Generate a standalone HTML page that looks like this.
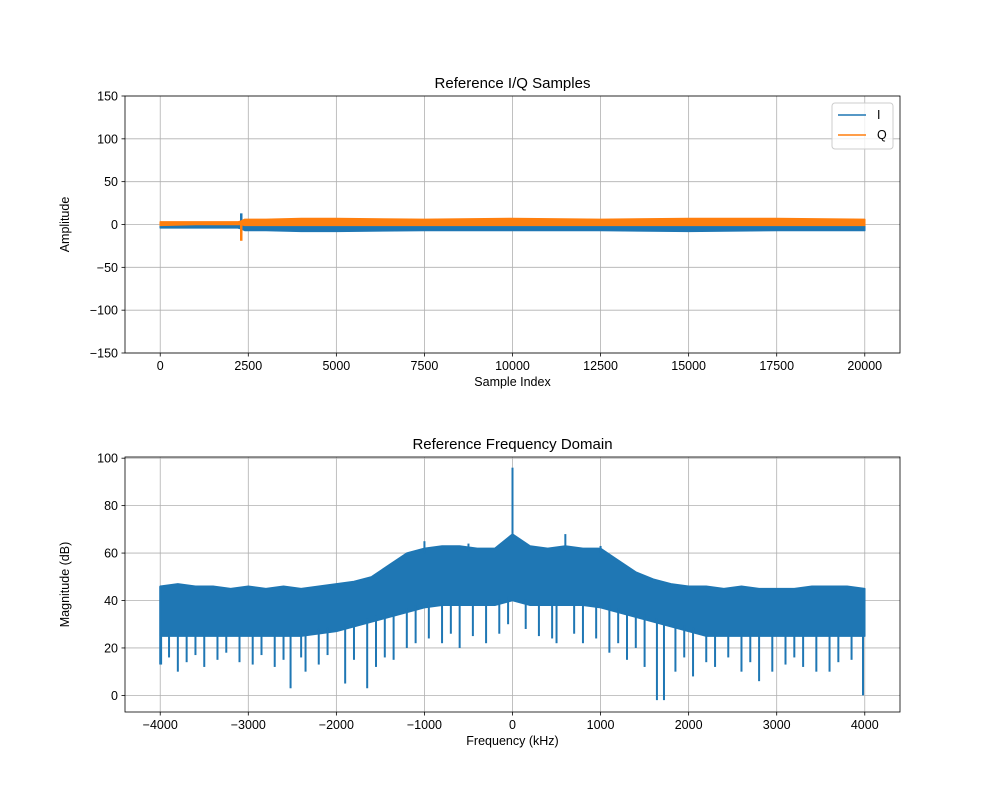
<!DOCTYPE html>
<html><head><meta charset="utf-8"><style>
body{margin:0;background:#fff;}
svg{display:block;font-family:"Liberation Sans","DejaVu Sans",sans-serif;}
</style></head><body>
<svg id="fig" width="1000" height="800" viewBox="0 0 1000 800"></svg>
<script>
// ---- Top chart data (I/Q envelopes) ----
const sampleIdx = [0, 1000, 2200, 2300, 2400, 3000, 4000, 5000, 7500, 10000, 12500, 15000, 17500, 20000];
const iHigh = [-1, -1, -1, -1, -1, -1, -1, -1, -1, -1, -1, -1, -1, -1];
const iLow  = [-4, -4, -4, -5, -7, -7, -8, -8, -7, -7, -7, -8, -7, -7];
const qHigh = [3, 3, 3, 4, 6, 6, 7, 7, 6, 7, 6, 7, 7, 6];
const qLow  = [-1, 0, 0, 0, -1, -1, -1, -1, -1, -1, -1, -1, -1, -1];
const iqSpikeIdx = [2300];
const iSpikeHigh = [13];
const qSpikeLow = [-19];
const topXTicks = [0, 2500, 5000, 7500, 10000, 12500, 15000, 17500, 20000];
const topYTicks = [-150, -100, -50, 0, 50, 100, 150];
// ---- Bottom chart data (spectrum envelope, kHz / dB) ----
const freqs = [-4000,-3800,-3600,-3400,-3200,-3000,-2800,-2600,-2400,-2200,-2000,-1800,-1600,-1400,-1200,-1000,-800,-600,-400,-200,0,200,400,600,800,1000,1200,1400,1600,1800,2000,2200,2400,2600,2800,3000,3200,3400,3600,3800,4000];
const magHigh = [46,47,46,46,45,46,45,46,45,46,47,48,50,55,60,62,63,63,62,62,68,63,62,63,62,62,57,52,49,47,46,46,45,46,45,45,45,46,46,46,45];
const magLow  = [25,25,25,25,25,25,25,25,25,26,27,29,31,33,35,37,38,38,38,38,40,38,38,38,38,37,35,33,31,29,27,25,25,25,25,25,25,25,25,25,25];
const dipFreq = [-3990,-3900,-3800,-3700,-3600,-3500,-3350,-3250,-3100,-2950,-2850,-2700,-2600,-2520,-2400,-2350,-2200,-2100,-1900,-1800,-1650,-1550,-1450,-1350,-1200,-1100,-950,-800,-700,-600,-450,-300,-150,-50,150,300,450,500,700,800,950,1100,1200,1300,1400,1500,1640,1720,1850,1950,2050,2200,2300,2450,2600,2700,2800,2950,3100,3200,3300,3450,3600,3700,3850,3980];
const dipVal  = [13,16,10,14,17,12,15,18,14,13,17,12,15,3,16,10,13,17,5,15,3,12,16,15,20,22,24,22,26,20,25,22,26,30,28,25,24,22,26,22,24,18,22,15,20,12,-2,-2,10,16,8,14,12,16,10,14,6,10,13,16,12,10,10,14,15,0];
const peakFreq = [-1000, -500, 0, 600, 1000];
const peakVal = [65, 64, 96, 68, 63];
const botXTicks = [-4000,-3000,-2000,-1000,0,1000,2000,3000,4000];
const botYTicks = [0,20,40,60,80,100];

const NS="http://www.w3.org/2000/svg";
const svg=document.getElementById('fig');
function mk(tag,attrs,parent){const e=document.createElementNS(NS,tag);for(const k in attrs)e.setAttribute(k,attrs[k]);(parent||svg).appendChild(e);return e;}
function lin(d0,d1,r0,r1){return v=>r0+(v-d0)*(r1-r0)/(d1-d0);}
function fmt(v){return v<0?'\u2212'+Math.abs(v):String(v);}
function interp(xs,ys,v){for(let i=0;i<xs.length-1;i++){if(v<=xs[i+1]){const t=(v-xs[i])/(xs[i+1]-xs[i]);return ys[i]+t*(ys[i+1]-ys[i]);}}return ys[ys.length-1];}

function axes(L,T,R,B,x,y,xt,yt,title,xl,yl,name){
  const g=mk('g',{});
  
  
  xt.forEach(v=>{const X=x(v);
    const gl=mk('line',{x1:X,x2:X,y1:T,y2:B,stroke:'#b0b0b0','stroke-width':0.8},g);
    
    mk('line',{x1:X,x2:X,y1:B,y2:B+3.5,stroke:'#000','stroke-width':0.8},g);
    const t=mk('text',{x:X,y:B+17,'text-anchor':'middle','font-size':12.5},g);t.textContent=fmt(v);
    });
  yt.forEach(v=>{const Y=y(v);
    const gl=mk('line',{x1:L,x2:R,y1:Y,y2:Y,stroke:'#b0b0b0','stroke-width':0.8},g);
    
    mk('line',{x1:L-3.5,x2:L,y1:Y,y2:Y,stroke:'#000','stroke-width':0.8},g);
    const t=mk('text',{x:L-7,y:Y+4.5,'text-anchor':'end','font-size':12.5},g);t.textContent=fmt(v);
    });
  const tt=mk('text',{x:(L+R)/2,y:T-8,'text-anchor':'middle','font-size':15},g);tt.textContent=title;
  
  const xa=mk('text',{x:(L+R)/2,y:B+33,'text-anchor':'middle','font-size':12.5},g);xa.textContent=xl;
  
  const ya=mk('text',{x:0,y:0,'text-anchor':'middle','font-size':12.5,transform:`translate(${L-56},${(T+B)/2}) rotate(-90)`},g);ya.textContent=yl;
  
  return g;
}
function frame(L,T,R,B){const f=mk('rect',{x:L,y:T,width:R-L,height:B-T,fill:'none',stroke:'#000','stroke-width':0.8});
  }
function band(xs,hi,lo,x,y,color,name,parent){
  let d='M'+xs.map((v,i)=>x(v)+','+y(hi[i])).join(' L');
  d+=' L'+xs.map((v,i)=>x(v)+','+y(lo[i])).reverse().join(' L')+' Z';
  const p=mk('path',{d:d,fill:color,stroke:color,'stroke-width':1.5,'stroke-linejoin':'round'},parent);
  
}

// Top chart
const tL=125,tT=96,tR=900,tB=353;
const tx=lin(-1000,21000,tL,tR), ty=lin(-150,150,tB,tT);
const gTop=axes(tL,tT,tR,tB,tx,ty,topXTicks,topYTicks,'Reference I/Q Samples','Sample Index','Amplitude','iq-samples-chart');
band(sampleIdx,iHigh,iLow,tx,ty,'#1f77b4','series-i',gTop);
iqSpikeIdx.forEach((s,i)=>{const l=mk('line',{x1:tx(s),x2:tx(s),y1:ty(0),y2:ty(iSpikeHigh[i]),stroke:'#1f77b4','stroke-width':2.5},gTop);
  });
band(sampleIdx,qHigh,qLow,tx,ty,'#ff7f0e','series-q',gTop);
iqSpikeIdx.forEach((s,i)=>{const l=mk('line',{x1:tx(s),x2:tx(s),y1:ty(0),y2:ty(qSpikeLow[i]),stroke:'#ff7f0e','stroke-width':2.5},gTop);
  });
frame(tL,tT,tR,tB);
// legend
const lg=mk('g',{});
mk('rect',{x:832,y:103,width:61,height:46,rx:3,fill:'#fff','fill-opacity':0.8,stroke:'#ccc'},lg);
[['I','#1f77b4',119],['Q','#ff7f0e',139]].forEach(([n,c,yy])=>{
  const e=mk('g',{},lg);
  mk('line',{x1:838,x2:866,y1:yy-4,y2:yy-4,stroke:c,'stroke-width':1.5},e);
  const t=mk('text',{x:877,y:yy,'font-size':12.5},e);t.textContent=n;});

// Bottom chart
const bL=125,bT=457,bR=900,bB=712;
const bx=lin(-4400,4400,bL,bR), by=lin(-7,100.5,bB,bT);
const gBot=axes(bL,bT,bR,bB,bx,by,botXTicks,botYTicks,'Reference Frequency Domain','Frequency (kHz)','Magnitude (dB)','frequency-chart');
band(freqs,magHigh,magLow,bx,by,'#1f77b4','spectrum-core',gBot);
dipFreq.forEach((f,i)=>{const top=interp(freqs,magLow,f)+2;
  const l=mk('line',{x1:bx(f),x2:bx(f),y1:by(top),y2:by(dipVal[i]),stroke:'#1f77b4','stroke-width':2},gBot);
  });
peakFreq.forEach((f,i)=>{const base=interp(freqs,magHigh,f)-2;
  const l=mk('line',{x1:bx(f),x2:bx(f),y1:by(base),y2:by(peakVal[i]),stroke:'#1f77b4','stroke-width':2},gBot);
  });
const e1=mk('line',{x1:bx(-4000),x2:bx(-4000),y1:by(13),y2:by(46),stroke:'#1f77b4','stroke-width':2},gBot);

frame(bL,bT,bR,bB);
</script>
</body></html>
